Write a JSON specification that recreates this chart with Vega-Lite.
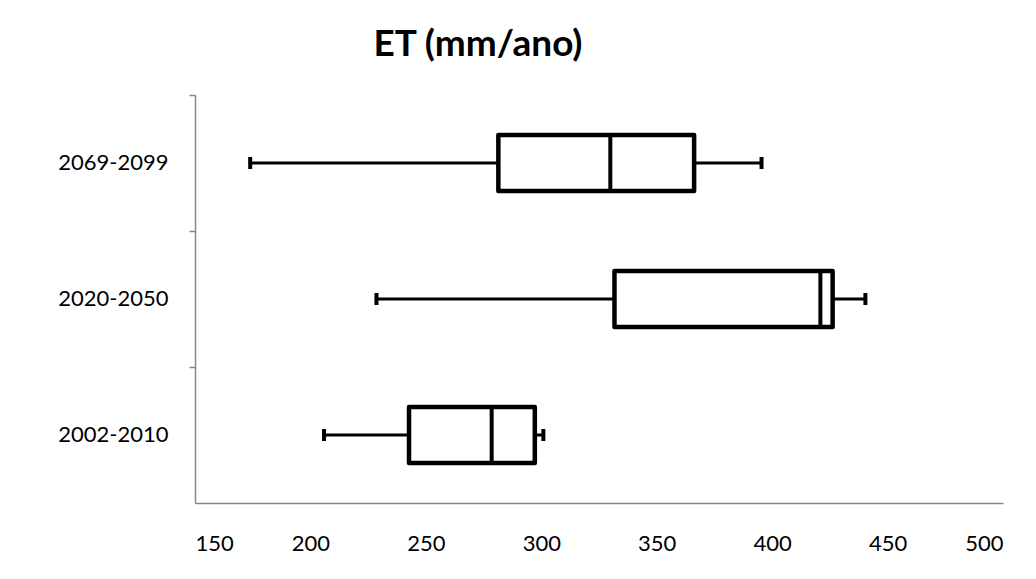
{
  "$schema": "https://vega.github.io/schema/vega-lite/v6.json",
  "width": 808,
  "height": 408,
  "autosize": "none",
  "padding": {"left": 195, "top": 95, "right": 33, "bottom": 76},
  "background": "white",
  "config": {
    "view": {"stroke": null},
    "font": "Lato",
    "axis": {
      "domainColor": "#868686",
      "domainWidth": 1.5,
      "tickColor": "#868686",
      "tickWidth": 1.5,
      "grid": false,
      "labelFont": "Lato",
      "labelFontSize": 22,
      "labelColor": "#000000",
      "title": null
    }
  },
  "title": {
    "text": "ET (mm/ano)",
    "font": "Lato",
    "fontSize": 37,
    "fontWeight": "bold",
    "color": "#000000",
    "anchor": "middle",
    "dx": -121,
    "baseline": "alphabetic",
    "offset": 1
  },
  "data": {
    "values": [
      {"period": "2002-2010", "min": 205.9, "q1": 242.7, "median": 278.5, "q3": 297.2, "max": 300.9},
      {"period": "2020-2050", "min": 228.6, "q1": 331.7, "median": 420.9, "q3": 426.2, "max": 440.4},
      {"period": "2069-2099", "min": 173.9, "q1": 281.4, "median": 329.9, "q3": 366.2, "max": 395.4}
    ]
  },
  "encoding": {
    "y": {
      "field": "period",
      "type": "nominal",
      "sort": ["2069-2099", "2020-2050", "2002-2010"],
      "scale": {"paddingInner": 0, "paddingOuter": 0},
      "axis": {"bandPosition": 0, "tickSize": 6, "labelPadding": 21, "labelAlign": "right"}
    }
  },
  "layer": [
    {
      "mark": {"type": "rule", "color": "#000000", "strokeWidth": 3},
      "encoding": {
        "x": {
          "field": "min",
          "type": "quantitative",
          "scale": {"domain": [150, 500], "nice": false, "zero": false},
          "axis": {"values": [150, 200, 250, 300, 350, 400, 450, 500], "ticks": false, "labelPadding": 30}
        },
        "x2": {"field": "max"}
      }
    },
    {
      "mark": {"type": "tick", "color": "#000000", "opacity": 1, "thickness": 4, "size": 12, "orient": "vertical"},
      "encoding": {"x": {"field": "min", "type": "quantitative"}}
    },
    {
      "mark": {"type": "tick", "color": "#000000", "opacity": 1, "thickness": 4, "size": 12, "orient": "vertical"},
      "encoding": {"x": {"field": "max", "type": "quantitative"}}
    },
    {
      "mark": {"type": "bar", "fill": "#ffffff", "opacity": 1, "stroke": "#000000", "strokeWidth": 4.5, "size": 56, "strokeJoin": "round"},
      "encoding": {
        "x": {"field": "q1", "type": "quantitative"},
        "x2": {"field": "q3"}
      }
    },
    {
      "mark": {"type": "tick", "color": "#000000", "opacity": 1, "thickness": 4, "size": 56, "orient": "vertical"},
      "encoding": {"x": {"field": "median", "type": "quantitative"}}
    }
  ]
}
